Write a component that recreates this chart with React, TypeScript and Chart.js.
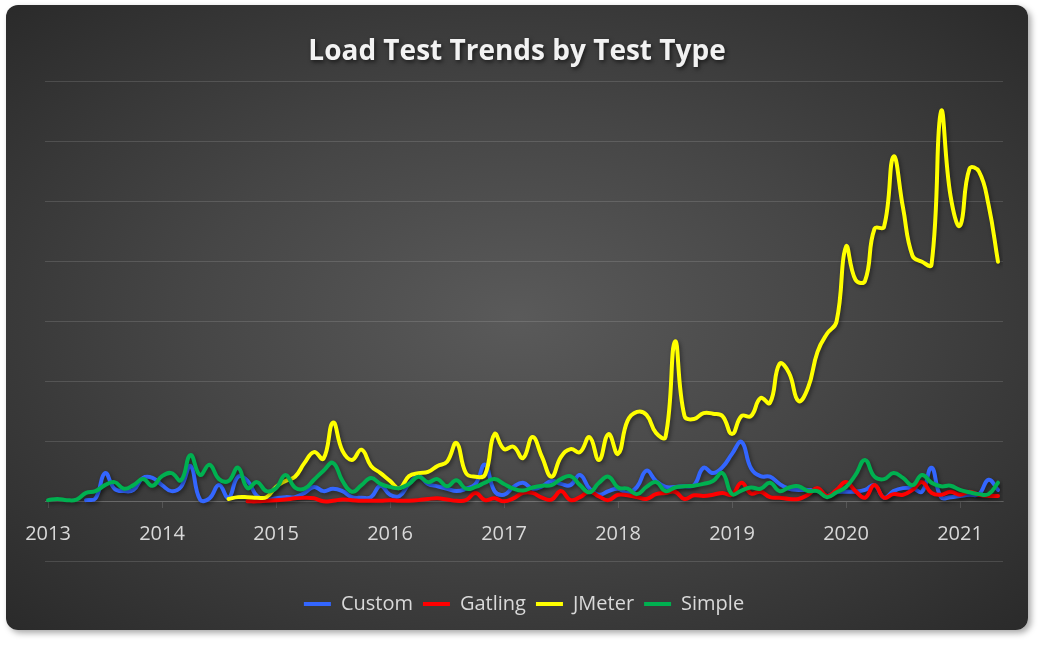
import React, { useEffect, useRef } from "react";
import { Chart, registerables } from "chart.js";

Chart.register(...registerables);

// Monthly data, index 0 = Jan 2013, index 100 = May 2021
const START_YEAR = 2013;
const yearTickMonths = [0, 12, 24, 36, 48, 60, 72, 84, 96];
const seriesNames = ["Custom", "Gatling", "JMeter", "Simple"];
const seriesColors = ["#3366ff", "#ff0000", "#ffff00", "#00b050"];
const titleText = "Load Test Trends by Test Type";

const custom = [
  null, null, null, null, 0.3, 0.6, 4.8, 2.2, 1.8, 2.0,
  4.0, 4.0, 2.8, 1.8, 2.5, 6.0, 0.4, 0.6, 2.8, 0.7,
  4.2, 3.5, 1.0, 0.4, 0.6, 0.8, 0.8, 1.5, 2.5, 1.8,
  2.2, 1.8, 0.8, 0.7, 0.8, 2.7, 1.2, 1.0, 3.0, 4.3,
  3.0, 2.6, 2.2, 1.8, 2.2, 3.0, 6.2, 1.8, 1.2, 2.5,
  3.2, 2.2, 2.6, 3.5, 3.0, 2.8, 4.5, 2.2, 1.2, 1.8,
  2.2, 1.5, 2.5, 5.2, 3.5, 2.5, 2.5, 2.6, 2.8, 5.7,
  4.8, 5.8, 8.0, 10.0, 5.6, 4.3, 4.2, 3.0, 2.2, 2.0,
  2.0, 1.8, 1.0, 1.6, 1.7, 1.7, 2.0, 2.8, 0.7, 1.8,
  2.3, 2.3, 1.7, 5.7, 0.8, 0.8, 1.0, 1.2, 1.3, 3.7,
  2.0,
];

const gatling = [
  null, null, null, null, null, null, null, null, null, null,
  null, null, null, null, null, null, null, null, null, null,
  null, 0.1, 0.1, 0.2, 0.3, 0.4, 0.6, 0.7, 0.6, 0.1,
  0.2, 0.4, 0.3, 0.2, 0.2, 0.2, 0.3, 0.2, 0.2, 0.3,
  0.5, 0.6, 0.4, 0.2, 0.3, 1.5, 0.3, 0.6, 0.1, 0.6,
  1.5, 1.5, 0.7, 0.4, 1.8, 0.3, 0.8, 1.7, 0.9, 0.3,
  1.2, 1.1, 0.8, 0.5, 1.3, 1.5, 1.7, 0.5, 1.1, 1.0,
  1.2, 1.5, 1.2, 3.2, 1.4, 1.7, 0.8, 0.7, 0.5, 0.5,
  1.2, 2.3, 1.0, 2.0, 3.3, 1.8, 0.7, 2.8, 0.7, 1.3,
  1.2, 2.0, 3.3, 1.5, 1.2, 1.7, 1.2, 1.7, 1.2, 1.0,
  1.0,
];

const jmeter = [
  null, null, null, null, null, null, null, null, null, null,
  null, null, null, null, null, null, null, null, null, 0.5,
  0.8, 0.8, 0.7, 0.8, 2.5, 3.5, 4.2, 6.5, 8.3, 7.2,
  13.2, 8.5, 7.0, 8.7, 6.0, 4.8, 3.5, 2.3, 4.3, 4.8,
  5.0, 6.0, 6.7, 9.8, 4.8, 4.2, 4.5, 11.3, 8.8, 9.2,
  7.3, 10.8, 7.5, 4.2, 7.5, 8.8, 8.3, 10.8, 7.0, 11.3,
  8.0, 13.5, 15.0, 14.5, 11.5, 10.8, 26.7, 14.3, 13.8, 14.8,
  14.7, 14.3, 11.3, 14.3, 14.3, 17.3, 16.5, 23.0, 21.5, 16.8,
  19.0, 25.0, 28.0, 30.0, 42.5, 37.0, 36.8, 45.5, 45.8, 57.5,
  49.0, 41.0, 40.0, 39.5, 65.0, 51.0, 46.0, 55.5, 55.0, 49.5,
  40.0,
];

const simple = [
  0.3, 0.5, 0.3, 0.4, 1.5, 1.8, 2.8, 3.3, 2.2, 2.8,
  3.8, 2.7, 4.3, 4.8, 3.6, 7.8, 4.5, 6.2, 3.8, 3.5,
  5.7, 2.3, 3.3, 1.8, 2.3, 4.5, 2.4, 2.2, 3.7, 5.2,
  6.5, 3.5, 1.7, 2.8, 4.0, 3.0, 2.5, 2.3, 3.0, 4.2,
  3.3, 3.8, 2.6, 3.6, 2.2, 2.5, 3.2, 3.8, 3.0, 2.2,
  1.9, 2.4, 2.7, 2.8, 3.8, 4.3, 2.8, 1.6, 3.2, 4.2,
  2.4, 2.2, 1.3, 2.5, 3.3, 1.8, 2.4, 2.6, 2.7, 3.0,
  3.5, 4.8, 1.3, 1.9, 2.4, 2.2, 3.2, 1.8, 2.4, 2.6,
  1.8, 1.8, 0.8, 1.6, 2.5, 4.5, 7.0, 4.2, 3.8, 4.8,
  4.0, 2.8, 4.5, 3.2, 2.6, 2.7, 2.0, 1.6, 1.3, 1.3,
  3.2,
];

const seriesValues = [custom, gatling, jmeter, simple];
const yGridValues = [-10, 0, 10, 20, 30, 40, 50, 60, 70];

const TITLE_FONT = { family: "'Open Sans'", size: 28, weight: "bold" as const };

const lineShadow = {
  id: "lineShadow",
  beforeDatasetsDraw(c: any) {
    const ctx = c.ctx;
    ctx.save();
    ctx.shadowColor = "rgba(0,0,0,0.45)";
    ctx.shadowBlur = 4;
    ctx.shadowOffsetX = 1.5;
    ctx.shadowOffsetY = 2;
  },
  afterDatasetsDraw(c: any) {
    c.ctx.restore();
  },
};

// draws the title text (laid out by Chart.js' title block) with a soft shadow
const shadowTitle = {
  id: "shadowTitle",
  afterDraw(c: any) {
    const tb = c.titleBlock;
    if (!tb) return;
    const ctx = c.ctx;
    const lh = TITLE_FONT.size * 1.2;
    const cy = tb.top + tb.options.padding.top + lh / 2;
    const cx = c.width / 2;
    ctx.save();
    ctx.font = `bold ${TITLE_FONT.size}px 'Open Sans'`;
    ctx.textAlign = "center";
    ctx.textBaseline = "middle";
    ctx.shadowColor = "rgba(0,0,0,0.6)";
    ctx.shadowBlur = 4;
    ctx.shadowOffsetX = 1.5;
    ctx.shadowOffsetY = 2;
    ctx.fillStyle = "#f2f2f2";
    ctx.fillText(titleText, cx, cy);
    ctx.restore();
  },
};

export default function App() {
  const ref = useRef<HTMLCanvasElement>(null);

  useEffect(() => {
    if (!ref.current) return;
    const gridColor = "rgba(255,255,255,0.13)";
    const datasets = seriesNames.map((name, k) => ({
      label: name,
      data: seriesValues[k].map((v, i) => ({ x: i, y: v })),
      borderColor: seriesColors[k],
      backgroundColor: seriesColors[k],
      borderWidth: 4,
      pointRadius: 0,
      tension: 0.45,
      borderCapStyle: "round" as const,
      borderJoinStyle: "round" as const,
      fill: false,
      order: seriesNames.length - 1 - k,
    }));

    const chart = new Chart(ref.current, {
      type: "line",
      data: { datasets },
      plugins: [lineShadow, shadowTitle],
      options: {
        responsive: false,
        animation: false,
        devicePixelRatio: 1,
        layout: { padding: { left: 39, right: 25, top: 0, bottom: 6 } },
        plugins: {
          title: {
            display: true,
            text: titleText,
            color: "rgba(0,0,0,0)",
            font: TITLE_FONT,
            padding: { top: 30, bottom: 13 },
          },
          legend: {
            display: true,
            position: "bottom",
            labels: {
              color: "#d9d9d9",
              font: { family: "'Open Sans'", size: 20 },
              boxWidth: 27,
              boxHeight: 4,
              padding: 10,
              sort: (a: any, b: any) => a.datasetIndex - b.datasetIndex,
              generateLabels: (c: any) =>
                Chart.defaults.plugins.legend.labels
                  .generateLabels(c)
                  .map((l: any) => ({ ...l, lineWidth: 0 })),
            },
          },
          tooltip: { enabled: false },
        },
        scales: {
          x: {
            type: "linear",
            position: { y: 0 } as any,
            min: -0.316,
            max: 100.526,
            afterBuildTicks: (s: any) => {
              s.ticks = yearTickMonths.map((v) => ({ value: v }));
            },
            ticks: {
              color: "#d9d9d9",
              font: { family: "'Open Sans'", size: 20 },
              padding: 14,
              autoSkip: false,
              maxRotation: 0,
              callback: (v: any) => String(START_YEAR + Number(v) / 12),
            },
            grid: {
              drawOnChartArea: false,
              drawTicks: true,
              tickLength: 6,
              color: gridColor,
            },
            border: { display: true, color: gridColor },
          },
          y: {
            type: "linear",
            min: -13.667,
            max: 70,
            afterBuildTicks: (s: any) => {
              s.ticks = yGridValues.map((v) => ({ value: v }));
            },
            afterFit: (s: any) => {
              s.width = 0;
            },
            ticks: { display: false },
            grid: { color: gridColor, drawTicks: false, lineWidth: 1 },
            border: { display: false },
          },
        },
      },
    });
    return () => chart.destroy();
  }, []);

  return (
    <div
      style={{
        position: "fixed",
        left: 0,
        top: 0,
        width: 1043,
        height: 645,
        background: "#ffffff",
      }}
    >
      <div
        style={{
          position: "absolute",
          left: 6,
          top: 5,
          width: 1022,
          height: 625,
          borderRadius: 12,
          background:
            "radial-gradient(ellipse farthest-corner at 50% 50%, #5a5a5a 0%, #464646 45%, #2a2a2a 100%)",
          boxShadow: "3px 3px 6px rgba(0,0,0,0.35)",
          overflow: "hidden",
        }}
      >
        <canvas
          ref={ref}
          width={1022}
          height={625}
          style={{ display: "block", width: 1022, height: 625 }}
        />
      </div>
    </div>
  );
}
